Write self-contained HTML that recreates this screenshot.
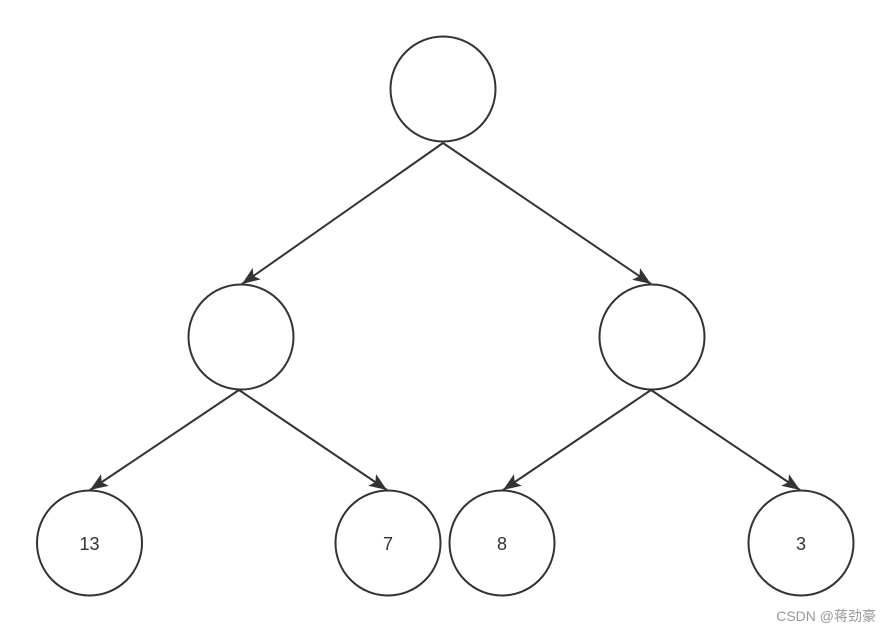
<!DOCTYPE html>
<html><head><meta charset="utf-8"><style>
html,body{margin:0;padding:0;background:#fff;}
svg{display:block;}
</style></head><body>
<svg width="891" height="633" viewBox="0 0 891 633" xmlns="http://www.w3.org/2000/svg">
<defs>
<marker id="a" markerWidth="20" markerHeight="16" refX="18" refY="8" orient="auto" markerUnits="userSpaceOnUse">
<path d="M0,1 L18,8 L0,15 L4,8 Z" fill="#333"/>
</marker>
</defs>
<g stroke="#333" stroke-width="2" fill="none">
<line x1="443" y1="143" x2="242" y2="284" marker-end="url(#a)"/>
<line x1="443" y1="143" x2="651" y2="284" marker-end="url(#a)"/>
<line x1="239" y1="390" x2="90" y2="490" marker-end="url(#a)"/>
<line x1="239" y1="390" x2="387" y2="490" marker-end="url(#a)"/>
<line x1="651" y1="390" x2="503" y2="490" marker-end="url(#a)"/>
<line x1="651" y1="390" x2="800" y2="490" marker-end="url(#a)"/>
<circle cx="443" cy="89" r="52.5"/>
<circle cx="241" cy="337" r="52.5"/>
<circle cx="652" cy="337" r="52.5"/>
<circle cx="89.5" cy="543" r="52.5"/>
<circle cx="388" cy="543" r="52.5"/>
<circle cx="502" cy="543" r="52.5"/>
<circle cx="801" cy="543" r="52.5"/>
</g>
<g font-family="Liberation Sans, sans-serif" font-size="18" fill="#333" text-anchor="middle">
<text x="89.5" y="550">13</text>
<text x="388" y="550">7</text>
<text x="502" y="550">8</text>
<text x="801" y="550">3</text>
</g>
<text x="876" y="621" text-anchor="end" font-family="Liberation Sans, 'Noto Sans CJK SC', sans-serif" font-size="14" fill="#999">CSDN @蒋劲豪</text>
</svg>
</body></html>
